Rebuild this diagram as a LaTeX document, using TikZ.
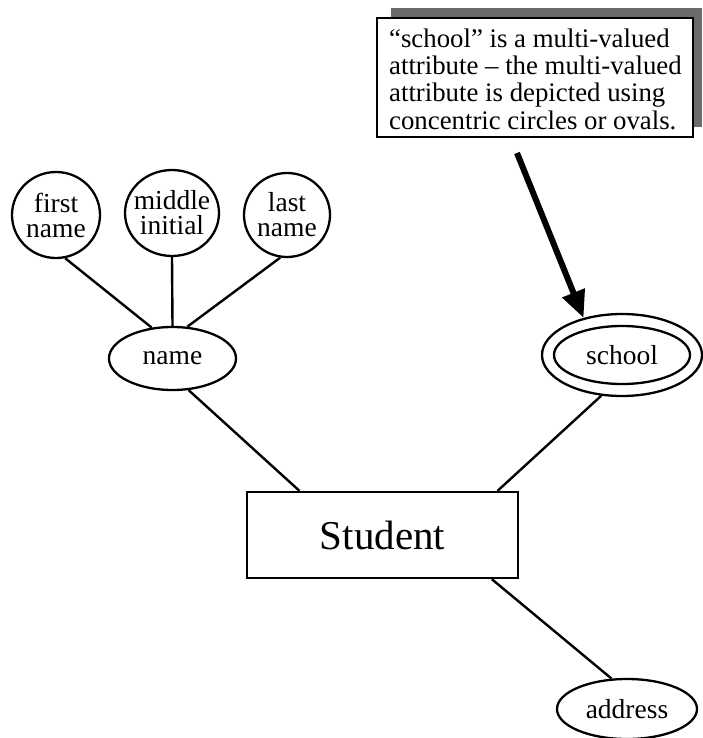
\documentclass[tikz,border=0pt]{standalone}
\usepackage{fontspec}
\setmainfont{Liberation Serif}
\usetikzlibrary{shapes.geometric,arrows.meta}
\begin{document}
\begin{tikzpicture}[x=1pt,y=-1pt,line width=2.3pt,
  attr/.style={ellipse,draw,inner sep=-10pt,align=center,
    font=\fontsize{27.5}{25}\selectfont},
  entity/.style={rectangle,draw,minimum width=271pt,minimum height=86pt,
    inner sep=0pt,font=\fontsize{41}{41}\selectfont},
  link/.style={draw,line width=2.4pt},
  notebox/.style={rectangle,draw,fill=white,line width=2.3pt,
    minimum width=316pt,minimum height=119pt,inner sep=0pt},
  notetext/.style={anchor=west,align=left,inner sep=0pt,
    font=\fontsize{26.8}{27.3}\selectfont},
  pointer/.style={line width=6pt,-{Triangle[length=27pt,width=23pt]}}]
\useasboundingbox (0,0) rectangle (702,738);

% composite attribute "name" and its parts
\node[attr,minimum width=88pt,minimum height=86pt] (fn) at (56,215) {first\\name};
\node[attr,minimum width=94pt,minimum height=86pt] (mi) at (172,213) {middle\\initial};
\node[attr,minimum width=86pt,minimum height=84pt] (ln) at (287,215) {last\\name};
\node[attr,minimum width=127pt,minimum height=63pt] (nm) at (172.5,358.5) {name};

% entity
\node[entity] (st) at (382.5,535) {Student};

% multi-valued attribute: two concentric ovals
\node[ellipse,draw,minimum width=160pt,minimum height=82pt,inner sep=0pt] (ring) at (622,355) {};
\node[attr,minimum width=136pt,minimum height=58pt] (sch) at (622,355) {school};

% simple attribute
\node[attr,minimum width=140pt,minimum height=60pt] (ad) at (627,709) {address};

% connectors
\draw[link] (fn.-78) -- (nm.124);
\draw[link] (mi.south) -- (nm.north);
\draw[link] (ln.-99) -- (nm.65);
\draw[link] (nm.-63) -- (st.152);
\draw[link] (ring.-117) -- (st.21.4);
\draw[link] (st.-22) -- (ad.117);

% callout with drop shadow
\fill[black!58] (391,8) rectangle (702,127);
\node[notebox] (note) at (535,77.5) {};
\node[notetext] (notetxt) at (388,79)
  {“school” is a multi-valued\\attribute – the multi-valued\\attribute is depicted using\\concentric circles or ovals.};
\coordinate (tail) at (517,153);
\draw[pointer] (tail) -- (ring.136);
\end{tikzpicture}
\end{document}
